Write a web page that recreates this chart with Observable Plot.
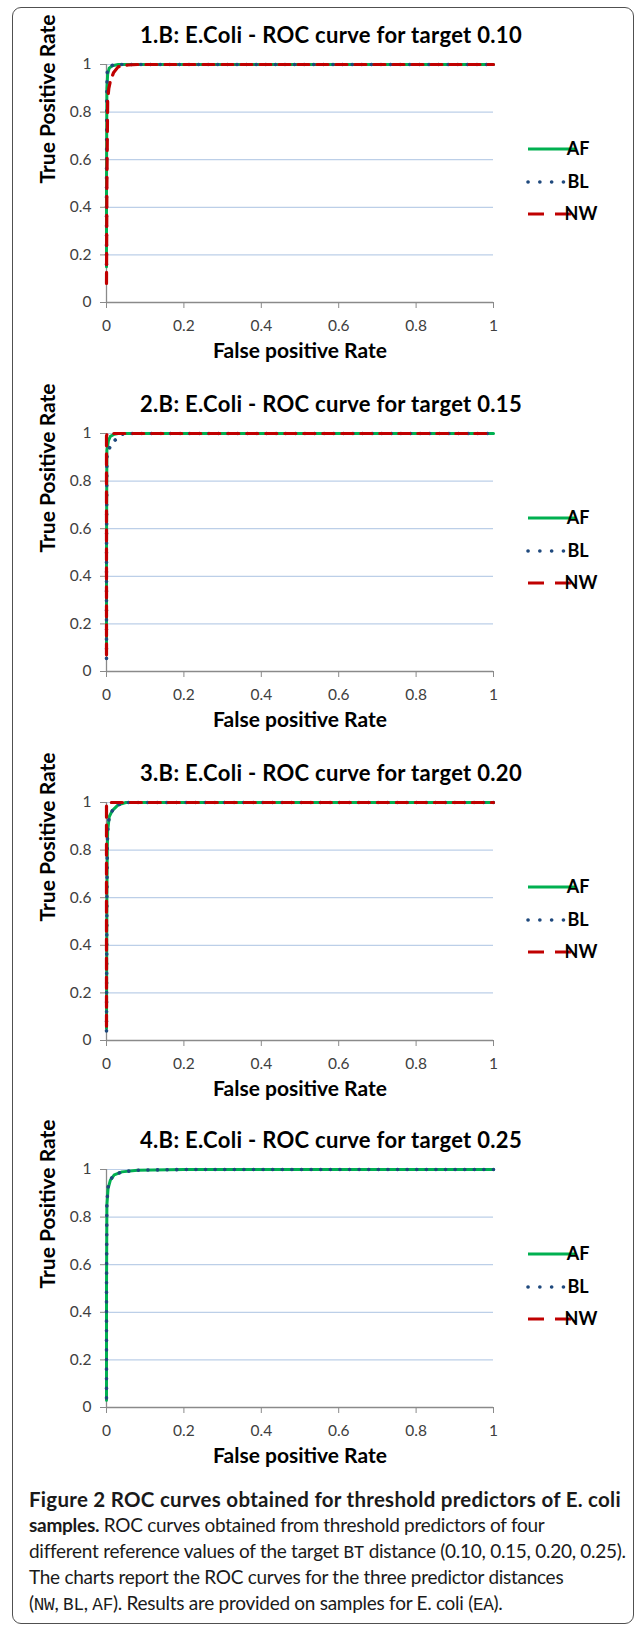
<!DOCTYPE html>
<html><head><meta charset="utf-8">
<script src="https://cdn.jsdelivr.net/npm/d3@7"></script>
<script src="https://cdn.jsdelivr.net/npm/@observablehq/plot@0.6"></script>
<style>
html,body{margin:0;padding:0;background:#fff;}
#root{position:relative;width:637px;height:1635px;overflow:hidden;background:#fff;font-family:Lato,sans-serif;}
#frame{position:absolute;left:12px;top:7px;width:622px;height:1617px;border:1.4px solid #505050;border-radius:9px;box-sizing:border-box;}
.title{position:absolute;left:0;width:662px;text-align:center;font-weight:700;font-size:22px;color:#000;line-height:26px;white-space:nowrap;}
.title span{display:inline-block;}
.cap{position:absolute;left:29px;white-space:nowrap;font-size:19px;line-height:26px;color:#1a1a1a;}
.cap span.l{display:inline-block;}
.cap.first{font-size:20.5px;}
code{font-family:"Liberation Mono",monospace;font-size:0.93em;}
</style></head><body><div id="root"><div id="frame"></div></div>
<script>
// ---------- data ----------
const panelIds = ["1.B", "2.B", "3.B", "4.B"];
const targets = ["0.10", "0.15", "0.20", "0.25"];
const seriesNames = ["AF", "BL", "NW"];
const xTicks = [0, 0.2, 0.4, 0.6, 0.8, 1];
const xTickLabels = ["0", "0.2", "0.4", "0.6", "0.8", "1"];
const yTicks = [0, 0.2, 0.4, 0.6, 0.8, 1];
const yTickLabels = ["0", "0.2", "0.4", "0.6", "0.8", "1"];

// [false positive rate, true positive rate]
const af10 = [[0,0.15],[0,0.5],[0.001,0.9],[0.003,0.96],[0.007,0.985],[0.015,0.995],[0.03,1],[1,1]];
const bl10 = [[0,0.16],[0,0.5],[0.001,0.9],[0.002,0.97],[0.006,0.99],[0.02,1],[1,1]];
const nw10 = [[0,0.08],[0.001,0.5],[0.003,0.85],[0.006,0.9],[0.01,0.93],[0.018,0.965],[0.03,0.99],[0.055,0.998],[0.08,1],[1,1]];

const af15 = [[0,0.08],[0,0.5],[0.001,0.93],[0.005,0.97],[0.01,0.988],[0.02,0.997],[0.03,1],[1,1]];
const bl15 = [[0,0.055],[0,0.5],[0.001,0.9],[0.004,0.93],[0.01,0.945],[0.015,0.96],[0.031,0.987],[0.045,1],[1,1]];
const nw15 = [[0,0.07],[0,0.99],[0.002,1],[1,1]];

const af20 = [[0,0.05],[0.001,0.6],[0.002,0.8],[0.003,0.88],[0.007,0.94],[0.015,0.966],[0.03,0.99],[0.05,1],[1,1]];
const bl20 = [[0,0.04],[0.001,0.6],[0.002,0.8],[0.003,0.88],[0.007,0.94],[0.015,0.965],[0.03,0.99],[0.05,1],[1,1]];
const nw20 = [[0,0.06],[0,0.995],[0.002,1],[1,1]];

const af25 = [[0,0.03],[0,0.5],[0.001,0.85],[0.004,0.92],[0.01,0.955],[0.02,0.977],[0.04,0.99],[0.08,0.997],[0.2,1],[1,1]];
const bl25 = [[0,0.04],[0,0.5],[0.001,0.86],[0.004,0.925],[0.01,0.957],[0.02,0.978],[0.04,0.99],[0.08,0.997],[0.2,1],[1,1]];
const nw25 = [];

const curves = [
  {AF: af10, BL: bl10, NW: nw10},
  {AF: af15, BL: bl15, NW: nw15},
  {AF: af20, BL: bl20, NW: nw20},
  {AF: af25, BL: bl25, NW: nw25}
];

// ---------- style / layout ----------
const panelTops = [0, 369, 738, 1105];
const gridColor = "#bccfe8";
const axisColor = "#8a8a8a";
const colors = {AF: "#00b050", BL: "#1f497d", NW: "#c00000"};
const dashes = {AF: null, BL: "0.1 9.5", NW: "11 8"};
const widths = {AF: 3, BL: 3.6, NW: 3.2};
const legendDashes = {AF: null, BL: "0.1 11.7", NW: "16 11"};
const legendCaps = {AF: "butt", BL: "round", NW: "butt"};

const root = document.getElementById("root");

function naturalWidth(el) { el.style.letterSpacing = "0px"; return el.getBoundingClientRect().width; }
function fitSpacing(el, target) {
  const w = naturalWidth(el);
  const n = el.textContent.length;
  let ls = (target - w) / n;
  ls = Math.max(-1.2, Math.min(1.2, ls));
  el.style.letterSpacing = ls.toFixed(3) + "px";
  return ls;
}

panelIds.forEach((pid, i) => {
  const top = panelTops[i];
  const t = document.createElement("div");
  t.className = "title";
  t.style.top = (top + 35 - 13) + "px";
  const ts = document.createElement("span");
  ts.textContent = `${pid}: E.Coli - ROC curve for target ${targets[i]}`;
  t.appendChild(ts);
  root.appendChild(t);
  fitSpacing(ts, 382);

  const marks = [
    Plot.gridY(yTicks.filter(d => d > 0), {stroke: gridColor, strokeOpacity: 1, strokeWidth: 1.2}),
    Plot.ruleY([0], {stroke: axisColor, strokeWidth: 1.3}),
    Plot.ruleX([0], {stroke: axisColor, strokeWidth: 1.3}),
    Plot.axisY(yTicks, {anchor: "left", tickSize: 6, tickPadding: 9, stroke: axisColor, fill: "#404040",
      fontSize: 15.5, tickFormat: d => yTickLabels[yTicks.indexOf(d)], label: null}),
    Plot.axisX(xTicks, {anchor: "bottom", tickSize: 6, tickPadding: 11, stroke: axisColor, fill: "#404040",
      fontSize: 15.5, tickFormat: d => xTickLabels[xTicks.indexOf(d)], label: null}),
    Plot.text(["False positive Rate"], {frameAnchor: "bottom", dy: 55, fontWeight: 700, fontSize: 21, fill: "#000"}),
    Plot.text(["True Positive Rate"], {frameAnchor: "left", dx: -58, rotate: -90, fontWeight: 700, fontSize: 21, fill: "#000"})
  ];
  seriesNames.forEach(s => {
    const d = curves[i][s];
    if (!d.length) return;
    const opts = {x: p => p[0], y: p => p[1], stroke: colors[s], strokeWidth: widths[s],
      strokeLinecap: "round", strokeLinejoin: "round"};
    if (dashes[s]) opts.strokeDasharray = dashes[s];
    marks.push(Plot.line(d, opts));
  });

  const svg = Plot.plot({
    width: 637, height: 370,
    marginLeft: 106, marginRight: 144, marginTop: 64, marginBottom: 68,
    x: {domain: [0, 1]},
    y: {domain: [0, 1]},
    style: {fontFamily: "Lato, sans-serif", fontSize: "15.5px", color: "#404040", background: "transparent", overflow: "visible"},
    marks
  });
  svg.style.position = "absolute";
  svg.style.left = "0px";
  svg.style.top = top + "px";

  // legend
  const g = d3.select(svg).append("g").attr("font-family", "Lato, sans-serif");
  const legY = [149, 182, 214];
  seriesNames.forEach((s, k) => {
    const ln = g.append("line").attr("x1", 528).attr("x2", 575).attr("y1", legY[k]).attr("y2", legY[k])
      .attr("stroke", colors[s]).attr("stroke-width", widths[s]).attr("stroke-linecap", legendCaps[s]);
    if (legendDashes[s]) ln.attr("stroke-dasharray", legendDashes[s]);
    g.append("text").attr("x", s === "NW" ? 581 : 578).attr("y", legY[k]).attr("dy", "0.36em")
      .attr("font-size", 18).attr("font-weight", 700).attr("fill", "#000").text(s);
  });
  root.appendChild(svg);
});

// ---------- caption ----------
const capLines = [
  '<b>Figure 2 ROC curves obtained for threshold predictors of E. coli</b>',
  '<b>samples.</b> ROC curves obtained from threshold predictors of four',
  'different reference values of the target <code>BT</code> distance (0.10, 0.15, 0.20, 0.25).',
  'The charts report the ROC curves for the three predictor distances',
  '(<code>NW</code>, <code>BL</code>, <code>AF</code>). Results are provided on samples for E. coli (<code>EA</code>).'
];
const capCenters = [1499, 1525, 1551, 1577, 1603];
const spans = capLines.map((h, k) => {
  const d = document.createElement("div");
  d.className = k === 0 ? "cap first" : "cap";
  d.style.top = (capCenters[k] - 13) + "px";
  const sp = document.createElement("span");
  sp.className = "l";
  sp.innerHTML = h;
  d.appendChild(sp);
  root.appendChild(d);
  return sp;
});
fitSpacing(spans[0], 592);
const lsBody = fitSpacing(spans[2], 596);
[1, 3, 4].forEach(k => { spans[k].style.letterSpacing = lsBody.toFixed(3) + "px"; });
</script>
</body></html>
